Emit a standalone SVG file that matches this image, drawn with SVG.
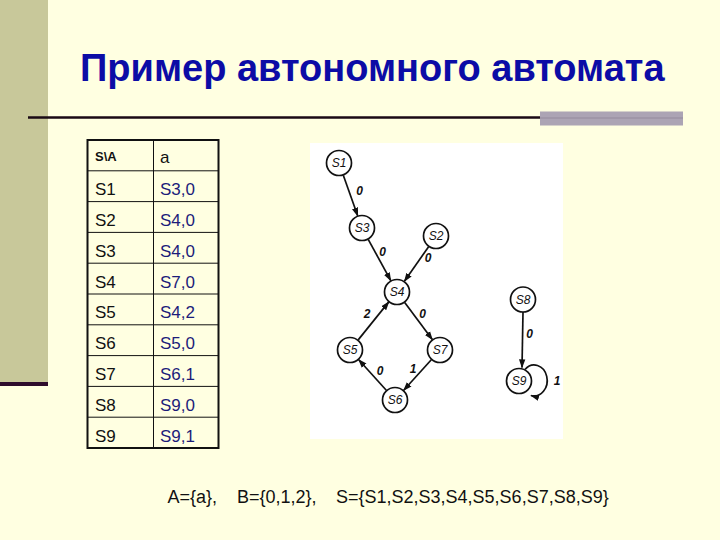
<svg xmlns="http://www.w3.org/2000/svg" width="720" height="540" viewBox="0 0 720 540">
<style>
.title{font-family:"Liberation Sans",Arial,sans-serif;font-weight:bold;font-size:38px;fill:#0c0ca6}
.cell{font-family:"Liberation Sans",Arial,sans-serif;font-size:17px;fill:#111}
.val{font-family:"Liberation Sans",Arial,sans-serif;font-size:17px;fill:#1c1c7a}
.hdr{font-family:"Liberation Sans",Arial,sans-serif;font-size:13px;font-weight:bold;fill:#111}
.foot{font-family:"Liberation Sans",Arial,sans-serif;font-size:18px;fill:#111}
.node circle{fill:#fff;stroke:#111;stroke-width:1.7}
.node text{font-family:"Liberation Sans",Arial,sans-serif;font-style:italic;font-size:12px;fill:#111;text-anchor:middle}
.edge{stroke:#111;stroke-width:1.7;fill:none;marker-end:url(#ah)}
.elabel{font-family:"Liberation Sans",Arial,sans-serif;font-style:italic;font-weight:bold;font-size:12px;fill:#111;text-anchor:middle}
.grid{stroke:#111;stroke-width:1}
</style>
<defs>
<marker id="ah" viewBox="0 0 10 10" refX="9" refY="5" markerWidth="9" markerHeight="9" markerUnits="userSpaceOnUse" orient="auto">
<path d="M0,1.5 L10,5 L0,8.5 Z" fill="#111"/>
</marker>
</defs>
<rect x="0" y="0" width="720" height="540" fill="#ffffe1"/>
<rect x="0" y="0" width="48" height="382" fill="#c8c89a"/>
<rect x="0" y="382" width="48" height="4" fill="#2e0c2c"/>
<line x1="28" y1="117.5" x2="683" y2="117.5" stroke="#1a0a14" stroke-width="2.5"/>
<rect x="540" y="111.5" width="143" height="14" fill="#aca4b4"/>
<line x1="540" y1="118" x2="683" y2="118" stroke="#9c93a4" stroke-width="1.5"/>
<text class="title" x="80" y="81">Пример автономного автомата</text>

<g id="table">
<rect x="87.5" y="140" width="131" height="308" fill="none" stroke="#111" stroke-width="2"/>
<line class="grid" x1="153.5" y1="140" x2="153.5" y2="448"/>
<line class="grid" x1="87.5" y1="170.8" x2="218.5" y2="170.8"/>
<line class="grid" x1="87.5" y1="201.6" x2="218.5" y2="201.6"/>
<line class="grid" x1="87.5" y1="232.4" x2="218.5" y2="232.4"/>
<line class="grid" x1="87.5" y1="263.2" x2="218.5" y2="263.2"/>
<line class="grid" x1="87.5" y1="294" x2="218.5" y2="294"/>
<line class="grid" x1="87.5" y1="324.8" x2="218.5" y2="324.8"/>
<line class="grid" x1="87.5" y1="355.6" x2="218.5" y2="355.6"/>
<line class="grid" x1="87.5" y1="386.4" x2="218.5" y2="386.4"/>
<line class="grid" x1="87.5" y1="417.2" x2="218.5" y2="417.2"/>
<text class="hdr" x="95" y="160.5">S\A</text>
<text class="cell" x="160" y="163">a</text>
<text class="cell" x="95" y="195">S1</text><text class="val" x="160" y="195">S3,0</text>
<text class="cell" x="95" y="226">S2</text><text class="val" x="160" y="226">S4,0</text>
<text class="cell" x="95" y="256.5">S3</text><text class="val" x="160" y="256.5">S4,0</text>
<text class="cell" x="95" y="287.5">S4</text><text class="val" x="160" y="287.5">S7,0</text>
<text class="cell" x="95" y="318">S5</text><text class="val" x="160" y="318">S4,2</text>
<text class="cell" x="95" y="349">S6</text><text class="val" x="160" y="349">S5,0</text>
<text class="cell" x="95" y="380">S7</text><text class="val" x="160" y="380">S6,1</text>
<text class="cell" x="95" y="410.5">S8</text><text class="val" x="160" y="410.5">S9,0</text>
<text class="cell" x="95" y="441.5">S9</text><text class="val" x="160" y="441.5">S9,1</text>
</g>

<rect x="310" y="143" width="253" height="296" fill="#ffffff"/>

<g id="connectors">
<line class="edge" x1="343.3" y1="175.2" x2="357.7" y2="215.8"/>
<line class="edge" x1="368.2" y1="239.4" x2="390.8" y2="280.6"/>
<line class="edge" x1="428.6" y1="246.7" x2="404.4" y2="281.3"/>
<line class="edge" x1="358.2" y1="339.9" x2="388.8" y2="301.9"/>
<line class="edge" x1="404.7" y1="302.4" x2="432.3" y2="339.6"/>
<line class="edge" x1="386.3" y1="390.3" x2="358.7" y2="359.7"/>
<line class="edge" x1="431.3" y1="359.7" x2="403.7" y2="390.3"/>
<line class="edge" x1="523" y1="312" x2="522" y2="367.5"/>
<path class="edge" d="M525,369.5 A13 15.5 0 1 1 531,395.5"/>
<text class="elabel" x="359.5" y="195">0</text>
<text class="elabel" x="382.5" y="256">0</text>
<text class="elabel" x="428" y="262">0</text>
<text class="elabel" x="367" y="318">2</text>
<text class="elabel" x="422.5" y="317.5">0</text>
<text class="elabel" x="380" y="375">0</text>
<text class="elabel" x="413" y="372.5">1</text>
<text class="elabel" x="529.5" y="337.5">0</text>
<text class="elabel" x="557" y="384.5">1</text>
</g>

<g id="S1" class="node"><circle cx="339" cy="163" r="12.5"/><text x="339" y="167">S1</text></g>
<g id="S3" class="node"><circle cx="362" cy="228" r="12.5"/><text x="362" y="232">S3</text></g>
<g id="S2" class="node"><circle cx="436" cy="236" r="12.5"/><text x="436" y="240">S2</text></g>
<g id="S4" class="node"><circle cx="397" cy="292" r="12.5"/><text x="397" y="296">S4</text></g>
<g id="S5" class="node"><circle cx="350" cy="350" r="12.5"/><text x="350" y="354">S5</text></g>
<g id="S7" class="node"><circle cx="440" cy="350" r="12.5"/><text x="440" y="354">S7</text></g>
<g id="S6" class="node"><circle cx="395" cy="400" r="12.5"/><text x="395" y="404">S6</text></g>
<g id="S8" class="node"><circle cx="523" cy="299.5" r="12.5"/><text x="523" y="303.5">S8</text></g>
<g id="S9" class="node"><circle cx="519" cy="381" r="12.5"/><text x="519" y="385">S9</text></g>

<text class="foot" x="167.5" y="503">A={a},</text>
<text class="foot" x="237" y="503">B={0,1,2},</text>
<text class="foot" x="336" y="503">S={S1,S2,S3,S4,S5,S6,S7,S8,S9}</text>
</svg>
